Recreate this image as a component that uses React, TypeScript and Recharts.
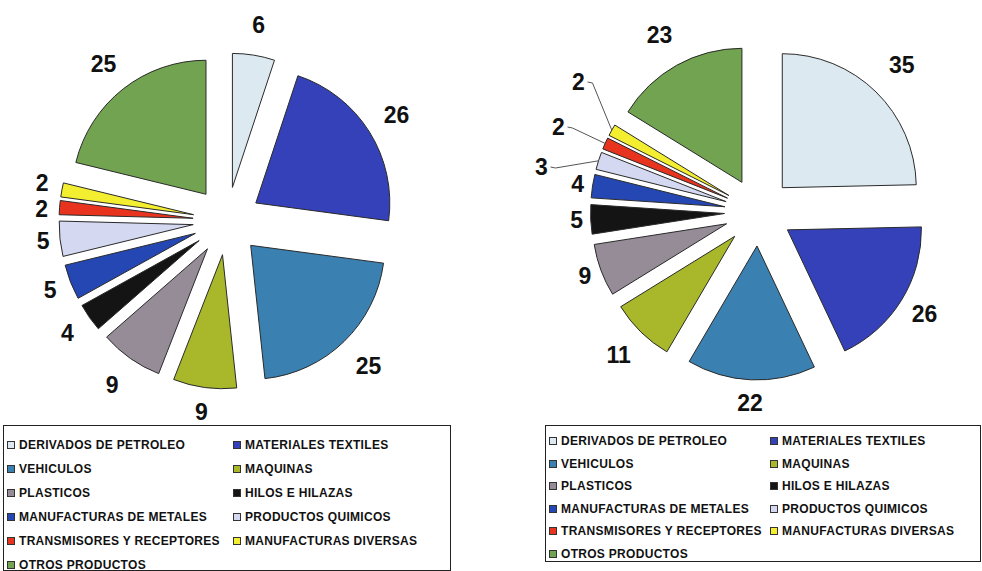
import { PieChart, Pie, Cell, Sector, Legend } from "recharts";

const CATEGORIES = [
  "DERIVADOS DE PETROLEO",
  "MATERIALES TEXTILES",
  "VEHICULOS",
  "MAQUINAS",
  "PLASTICOS",
  "HILOS E HILAZAS",
  "MANUFACTURAS DE METALES",
  "PRODUCTOS QUIMICOS",
  "TRANSMISORES Y RECEPTORES",
  "MANUFACTURAS DIVERSAS",
  "OTROS PRODUCTOS",
];

const LEFT_VALUES = [6, 26, 25, 9, 9, 4, 5, 5, 2, 2, 25];
const RIGHT_VALUES = [35, 26, 22, 11, 9, 5, 4, 3, 2, 2, 23];

const COLORS = [
  "#dce9f0",
  "#3441b8",
  "#3a80b0",
  "#a8b82a",
  "#958c98",
  "#141414",
  "#2447b4",
  "#d4d8f0",
  "#e8341e",
  "#f4ee30",
  "#72a350",
];

const RAD = Math.PI / 180;
const RADIUS = 134;
const EXPLODE = 34;
const FONT = "'Liberation Sans', Arial, sans-serif";

// distance of each value label from the pie centre
const LEFT_LABEL_R = [199, 200, 203, 193, 200, 195, 190, 185, 186, 188, 200];
const RIGHT_LABEL_R = [205, 195, 191, 200, 185, 182, 183, 0, 0, 0, 203];
// small vertical nudges so the two stacked "2" labels don't collide
const LEFT_LABEL_DY = [0, 0, 0, 0, 0, 0, 0, 0, 3, -3, 0];
const RIGHT_LABEL_DY = [0, 0, 0, 0, 0, 0, 0, 0, 0, 0, 0];
// small slices on the right pie get a label pulled out with a leader line
const RIGHT_LEADERS: Record<number, [number, number]> = {
  7: [-217, -45],
  8: [-200, -85],
  9: [-180, -130],
};

const dir = (angle: number) => [Math.cos(-angle * RAD), Math.sin(-angle * RAD)];

// every sector is pushed out along its mid angle
function ExplodedSector(props: any) {
  const { cx, cy, outerRadius, startAngle, endAngle, midAngle, fill } = props;
  const [ux, uy] = dir(midAngle);
  return (
    <Sector
      cx={cx + ux * EXPLODE}
      cy={cy + uy * EXPLODE}
      innerRadius={0}
      outerRadius={outerRadius}
      startAngle={startAngle}
      endAngle={endAngle}
      fill={fill}
      stroke="#2a2a2a"
      strokeWidth={1}
    />
  );
}

function makeLabel(
  radii: number[],
  nudges: number[],
  leaders: Record<number, [number, number]>
) {
  return (props: any) => {
    const { cx, cy, midAngle, outerRadius, index, value } = props;
    const [ux, uy] = dir(midAngle);
    const style = { fontFamily: FONT, fontWeight: 700, fontSize: 23, fill: "#111" };
    const lead = leaders[index];
    if (lead) {
      const x = cx + lead[0];
      const y = cy + lead[1];
      const tipX = cx + ux * (EXPLODE + outerRadius);
      const tipY = cy + uy * (EXPLODE + outerRadius);
      return (
        <g>
          <path
            d={`M${x + 9},${y} L${x + 14},${y + 1} L${tipX},${tipY}`}
            stroke="#555"
            strokeWidth={1}
            fill="none"
          />
          <text x={x} y={y} textAnchor="middle" dominantBaseline="central" style={style}>
            {value}
          </text>
        </g>
      );
    }
    const r = radii[index];
    return (
      <text
        x={cx + ux * r}
        y={cy + uy * r + nudges[index]}
        textAnchor="middle"
        dominantBaseline="central"
        style={style}
      >
        {value}
      </text>
    );
  };
}

interface BoxLayout {
  w: number;
  h: number;
  firstRow: number;
  rowH: number;
  col1: number;
  col2: number;
}

function LegendBox({ layout }: { layout: BoxLayout }) {
  return (
    <div
      style={{
        position: "relative",
        width: layout.w,
        height: layout.h,
        border: "1px solid #222",
        background: "#fff",
        boxSizing: "border-box",
        fontFamily: FONT,
        fontWeight: 700,
        fontSize: 12,
        letterSpacing: 0.3,
        color: "#111",
      }}
    >
      {CATEGORIES.map((name, i) => {
        const row = Math.floor(i / 2);
        const x = i % 2 === 0 ? layout.col1 : layout.col2;
        const y = layout.firstRow + row * layout.rowH;
        return (
          <div
            key={name}
            style={{
              position: "absolute",
              left: x,
              top: y - 7,
              height: 14,
              display: "flex",
              alignItems: "center",
              whiteSpace: "nowrap",
            }}
          >
            <span
              style={{
                display: "inline-block",
                width: 6,
                height: 6,
                border: "1px solid #333",
                background: COLORS[i],
                marginRight: 4,
              }}
            />
            {name}
          </div>
        );
      })}
    </div>
  );
}

const LEFT_BOX: BoxLayout = { w: 448, h: 146, firstRow: 19, rowH: 24, col1: 3, col2: 229 };
const RIGHT_BOX: BoxLayout = { w: 436, h: 137, firstRow: 15, rowH: 22.6, col1: 3, col2: 224 };

function ExplodedPie({
  values,
  cx,
  cy,
  radii,
  nudges,
  leaders,
  box,
  boxX,
  boxY,
}: {
  values: number[];
  cx: number;
  cy: number;
  radii: number[];
  nudges: number[];
  leaders: Record<number, [number, number]>;
  box: BoxLayout;
  boxX: number;
  boxY: number;
}) {
  const data = CATEGORIES.map((name, i) => ({ name, value: values[i] }));
  return (
    <PieChart width={491} height={571} margin={{ top: 0, right: 0, bottom: 0, left: 0 }}>
      <Pie
        data={data}
        dataKey="value"
        nameKey="name"
        cx={cx}
        cy={cy}
        outerRadius={RADIUS}
        startAngle={90}
        endAngle={-270}
        shape={ExplodedSector}
        label={makeLabel(radii, nudges, leaders)}
        labelLine={false}
        isAnimationActive={false}
      >
        {data.map((d, i) => (
          <Cell key={d.name} fill={COLORS[i]} />
        ))}
      </Pie>
      <Legend
        content={() => <LegendBox layout={box} />}
        wrapperStyle={{ left: boxX, top: boxY, width: box.w, height: box.h }}
      />
    </PieChart>
  );
}

export default function App() {
  return (
    <div
      style={{
        position: "absolute",
        left: 0,
        top: 0,
        width: 982,
        height: 571,
        background: "#fff",
        overflow: "hidden",
      }}
    >
      <div style={{ position: "absolute", left: 0, top: 0 }}>
        <ExplodedPie
          values={LEFT_VALUES}
          cx={227}
          cy={221}
          radii={LEFT_LABEL_R}
          nudges={LEFT_LABEL_DY}
          leaders={{}}
          box={LEFT_BOX}
          boxX={3}
          boxY={425}
        />
      </div>
      <div style={{ position: "absolute", left: 491, top: 0 }}>
        <ExplodedPie
          values={RIGHT_VALUES}
          cx={267.5}
          cy={212}
          radii={RIGHT_LABEL_R}
          nudges={RIGHT_LABEL_DY}
          leaders={RIGHT_LEADERS}
          box={RIGHT_BOX}
          boxX={54}
          boxY={425}
        />
      </div>
    </div>
  );
}
